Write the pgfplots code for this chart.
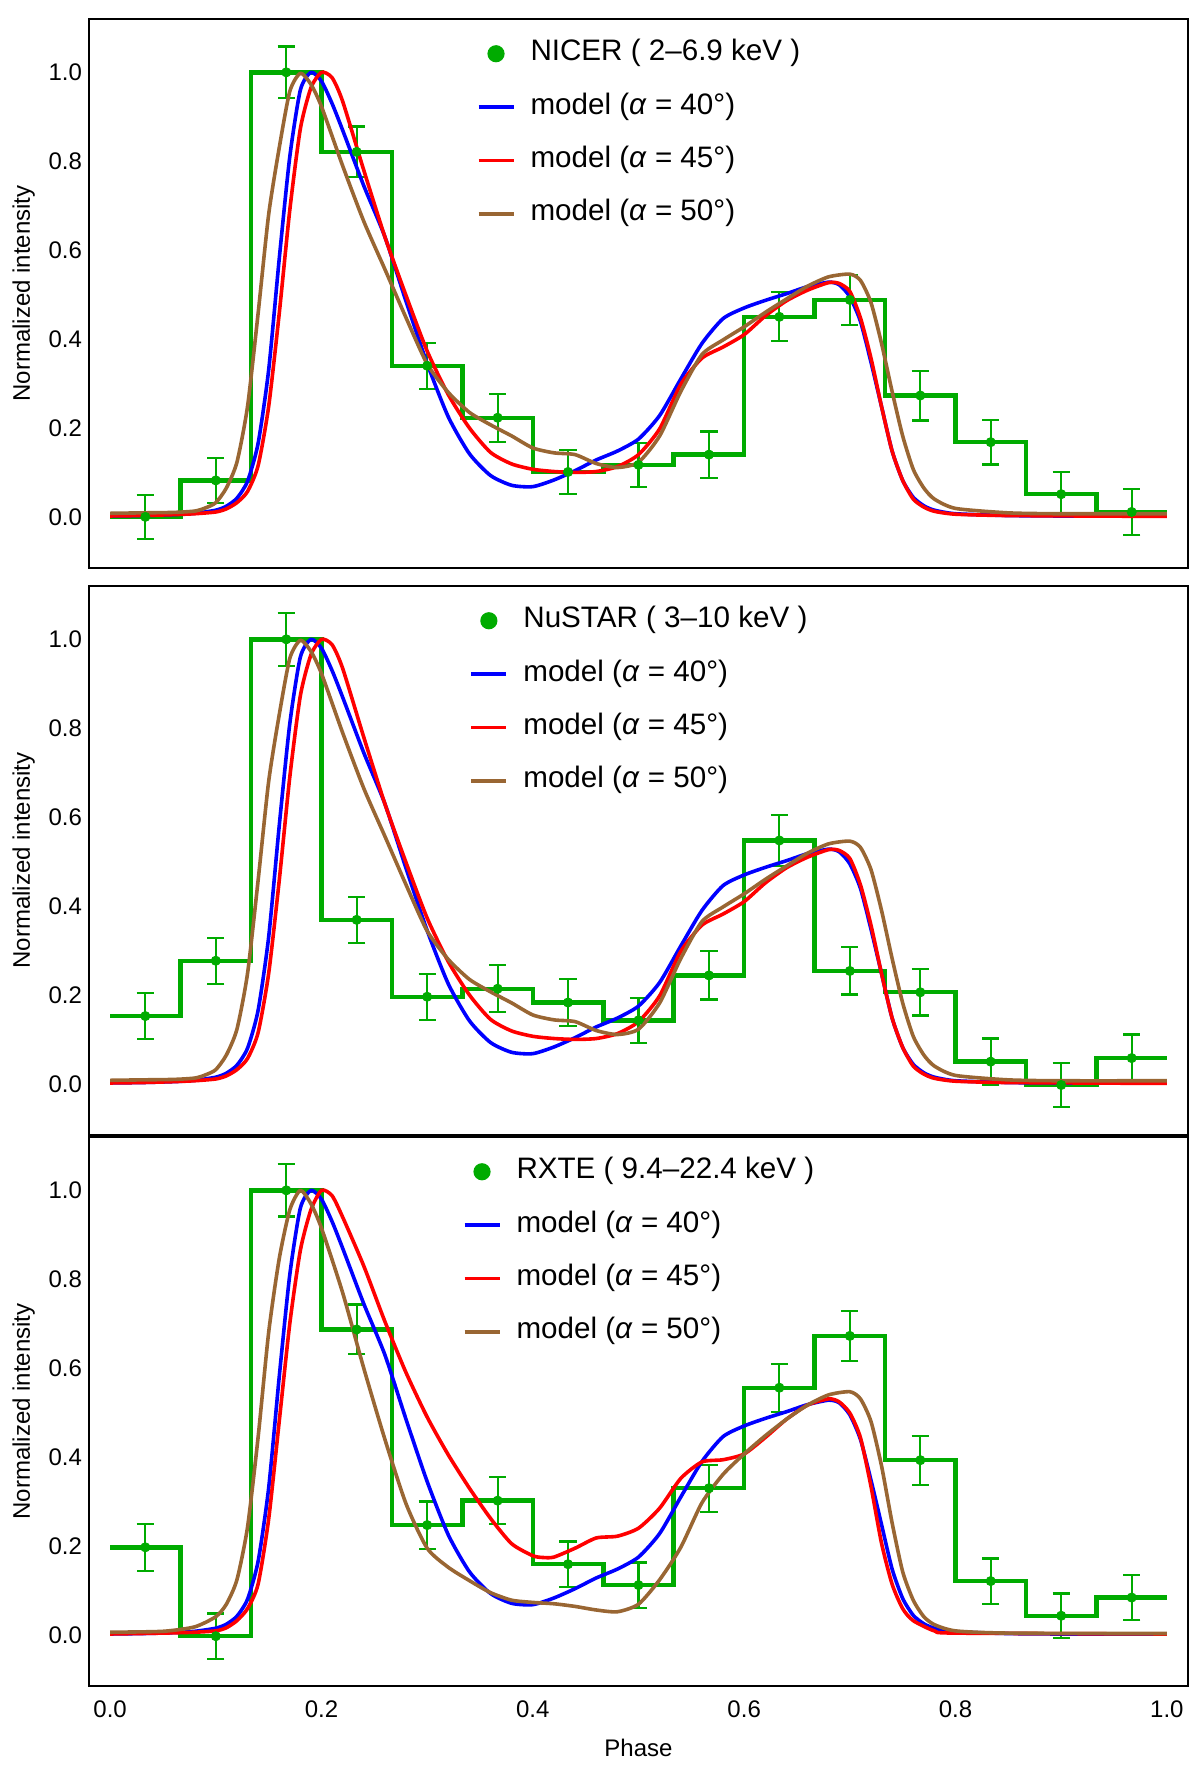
\documentclass[border=0pt]{standalone}
\usepackage{pgfplots}
\pgfplotsset{compat=1.18}
\usepackage{pgfplotstable}
\usepackage{fontspec}
\setmainfont{Liberation Sans}
\definecolor{dgreen}{rgb}{0,0.67,0}
\definecolor{mbrown}{rgb}{0.6,0.4,0.2}
\definecolor{mblue}{rgb}{0,0,1}
\definecolor{mred}{rgb}{1,0,0}

% ---------- data points (bin centre, value, error) ----------
\pgfplotstableread{
c y e
0.0333 0.000 0.050
0.1000 0.082 0.050
0.1667 1.000 0.058
0.2333 0.821 0.057
0.3000 0.340 0.052
0.3667 0.223 0.054
0.4333 0.101 0.050
0.5000 0.117 0.050
0.5667 0.140 0.052
0.6333 0.450 0.055
0.7000 0.488 0.056
0.7667 0.273 0.056
0.8333 0.168 0.050
0.9000 0.051 0.050
0.9667 0.011 0.052
}\nicer
\pgfplotstableread{
c y e
0.0333 0.1525 0.052
0.1000 0.277 0.052
0.1667 1.000 0.060
0.2333 0.369 0.052
0.3000 0.196 0.052
0.3667 0.214 0.053
0.4333 0.183 0.053
0.5000 0.143 0.051
0.5667 0.244 0.054
0.6333 0.5475 0.057
0.7000 0.254 0.053
0.7667 0.206 0.052
0.8333 0.050 0.052
0.9000 -0.0025 0.050
0.9667 0.058 0.053
}\nustar
\pgfplotstableread{
c y e
0.0333 0.197 0.053
0.1000 -0.003 0.051
0.1667 1.000 0.059
0.2333 0.687 0.056
0.3000 0.247 0.053
0.3667 0.302 0.053
0.4333 0.159 0.051
0.5000 0.112 0.051
0.5667 0.330 0.053
0.6333 0.556 0.054
0.7000 0.6725 0.056
0.7667 0.393 0.055
0.8333 0.121 0.051
0.9000 0.043 0.050
0.9667 0.084 0.051
}\rxte

% ---------- histograms (left bin edge, value) ----------
\pgfplotstableread{
x y
0.0000 0.000
0.0667 0.082
0.1333 1.000
0.2000 0.821
0.2667 0.340
0.3333 0.223
0.4000 0.101
0.4667 0.117
0.5333 0.140
0.6000 0.450
0.6667 0.488
0.7333 0.273
0.8000 0.168
0.8667 0.051
0.9333 0.011
1.0000 0.011
}\nicerh
\pgfplotstableread{
x y
0.0000 0.1525
0.0667 0.277
0.1333 1.000
0.2000 0.369
0.2667 0.196
0.3333 0.214
0.4000 0.183
0.4667 0.143
0.5333 0.244
0.6000 0.5475
0.6667 0.254
0.7333 0.206
0.8000 0.050
0.8667 -0.0025
0.9333 0.058
1.0000 0.058
}\nustarh
\pgfplotstableread{
x y
0.0000 0.197
0.0667 -0.003
0.1333 1.000
0.2000 0.687
0.2667 0.247
0.3333 0.302
0.4000 0.159
0.4667 0.112
0.5333 0.330
0.6000 0.556
0.6667 0.6725
0.7333 0.393
0.8000 0.121
0.8667 0.043
0.9333 0.084
1.0000 0.084
}\rxteh

% ---------- model curves ----------
\pgfplotstableread{
x y
0.00 0.002
0.03 0.003
0.06 0.005
0.08 0.008
0.10 0.015
0.11 0.024
0.12 0.042
0.13 0.080
0.14 0.165
0.15 0.330
0.16 0.580
0.17 0.810
0.18 0.960
0.19 1.000
0.20 0.980
0.21 0.930
0.22 0.870
0.24 0.745
0.26 0.630
0.28 0.485
0.30 0.345
0.32 0.225
0.34 0.142
0.36 0.093
0.38 0.071
0.40 0.068
0.42 0.083
0.44 0.104
0.46 0.128
0.48 0.148
0.50 0.175
0.52 0.228
0.54 0.310
0.56 0.390
0.58 0.446
0.60 0.470
0.62 0.487
0.64 0.502
0.66 0.518
0.68 0.528
0.69 0.522
0.70 0.495
0.71 0.440
0.72 0.348
0.73 0.248
0.74 0.148
0.75 0.082
0.76 0.044
0.77 0.025
0.78 0.015
0.80 0.007
0.85 0.003
0.90 0.002
1.00 0.002
}\blueA
\pgfplotstableread{
x y
0.00 0.002
0.03 0.003
0.06 0.005
0.08 0.007
0.10 0.011
0.11 0.018
0.12 0.032
0.13 0.057
0.14 0.115
0.15 0.248
0.16 0.457
0.17 0.690
0.18 0.873
0.19 0.965
0.20 1.000
0.21 0.988
0.22 0.935
0.24 0.780
0.26 0.630
0.28 0.498
0.30 0.373
0.32 0.275
0.34 0.200
0.36 0.145
0.38 0.119
0.40 0.107
0.42 0.102
0.44 0.100
0.46 0.102
0.48 0.113
0.50 0.140
0.52 0.198
0.54 0.298
0.56 0.357
0.58 0.382
0.60 0.410
0.62 0.452
0.64 0.486
0.66 0.510
0.68 0.527
0.69 0.525
0.70 0.507
0.71 0.448
0.72 0.357
0.73 0.248
0.74 0.148
0.75 0.082
0.76 0.040
0.77 0.022
0.78 0.0125
0.80 0.006
0.85 0.003
1.00 0.001
}\redA
\pgfplotstableread{
x y
0.00 0.008
0.03 0.009
0.06 0.010
0.08 0.013
0.09 0.020
0.10 0.032
0.11 0.065
0.12 0.123
0.13 0.248
0.14 0.457
0.15 0.680
0.16 0.830
0.17 0.957
0.18 0.998
0.19 0.973
0.20 0.923
0.22 0.790
0.24 0.665
0.26 0.557
0.28 0.448
0.30 0.344
0.32 0.280
0.34 0.235
0.36 0.207
0.38 0.182
0.40 0.155
0.42 0.144
0.44 0.140
0.46 0.120
0.48 0.111
0.50 0.123
0.52 0.182
0.54 0.282
0.56 0.365
0.58 0.398
0.60 0.4275
0.62 0.460
0.64 0.490
0.66 0.519
0.68 0.540
0.70 0.546
0.71 0.532
0.72 0.482
0.73 0.390
0.74 0.282
0.75 0.182
0.76 0.107
0.77 0.065
0.78 0.040
0.80 0.019
0.85 0.009
0.90 0.007
1.00 0.007
}\brownA
\pgfplotstableread{
x y
0.00 0.002
0.05 0.004
0.08 0.006
0.10 0.009
0.11 0.016
0.12 0.032
0.13 0.059
0.14 0.114
0.15 0.260
0.16 0.480
0.17 0.700
0.18 0.865
0.19 0.956
0.20 1.000
0.21 0.988
0.22 0.940
0.24 0.830
0.26 0.705
0.28 0.590
0.30 0.490
0.32 0.405
0.34 0.330
0.36 0.262
0.38 0.205
0.40 0.178
0.41 0.174
0.42 0.175
0.44 0.195
0.46 0.218
0.48 0.222
0.50 0.240
0.52 0.285
0.54 0.352
0.56 0.389
0.58 0.394
0.60 0.407
0.62 0.444
0.64 0.485
0.66 0.517
0.68 0.531
0.69 0.524
0.70 0.499
0.71 0.444
0.72 0.334
0.73 0.206
0.74 0.114
0.75 0.059
0.76 0.032
0.78 0.009
0.80 0.004
1.00 0.002
}\redC
\pgfplotstableread{
x y
0.00 0.006
0.05 0.008
0.08 0.018
0.10 0.041
0.11 0.069
0.12 0.124
0.13 0.242
0.14 0.444
0.15 0.680
0.16 0.846
0.17 0.956
0.18 1.000
0.19 0.970
0.20 0.915
0.22 0.770
0.24 0.600
0.26 0.440
0.28 0.295
0.30 0.195
0.32 0.152
0.34 0.122
0.36 0.095
0.38 0.078
0.40 0.073
0.42 0.070
0.44 0.064
0.46 0.056
0.48 0.052
0.50 0.069
0.52 0.124
0.54 0.197
0.56 0.297
0.58 0.361
0.60 0.407
0.62 0.448
0.64 0.485
0.66 0.517
0.68 0.540
0.70 0.547
0.71 0.531
0.72 0.480
0.73 0.380
0.74 0.252
0.75 0.142
0.76 0.078
0.77 0.041
0.78 0.023
0.80 0.009
0.85 0.004
1.00 0.003
}\brownC

\pgfplotsset{
  panel/.style={
    scale only axis, width=549.5pt, height=274.5pt,
    xmin=-0.02, xmax=1.02, ymin=-0.115, ymax=1.12,
    axis line style={line width=1.4pt},
    major tick length=0pt,
    ytick={0,0.2,0.4,0.6,0.8,1.0},
    xtick={0,0.2,0.4,0.6,0.8,1.0},
    /pgf/number format/assume math mode=true,
    tick label style={font=\fontsize{12}{14}\selectfont},
    yticklabel style={/pgf/number format/fixed, /pgf/number format/fixed zerofill, /pgf/number format/precision=1},
    xticklabel style={/pgf/number format/fixed, /pgf/number format/fixed zerofill, /pgf/number format/precision=1, yshift=-3.7pt},
    every axis y label/.style={at={(axis description cs:-0.0594,0.5)}, rotate=90, anchor=center, font=\fontsize{12}{14}\selectfont},
    every axis x label/.style={at={(axis description cs:0.5,-0.113)}, anchor=center, font=\fontsize{12}{14}\selectfont},
    ylabel={Normalized intensity},
    legend image code/.code={\draw[##1] (0pt,0pt) -- (17.5pt,0pt); \path[draw=none,fill=none] (0pt,0pt) -- (26pt,0pt);},
    legend style={at={(0.5,0.964)}, anchor=north, draw=none, fill=none,
      inner sep=0pt, outer sep=0pt,
      font=\fontsize{14.8}{17}\selectfont, row sep=11.7pt,
      nodes={inner sep=0pt, text height=11pt, text depth=4pt}},
    legend cell align=left,
  },
  hist/.style={const plot, dgreen, line width=2.2pt, forget plot},
  pts/.style={only marks, mark=*, mark size=2.3pt, dgreen, forget plot,
    error bars/.cd, y dir=both, y explicit,
    error bar style={line width=1.1pt, dgreen},
    error mark options={line width=1.1pt, dgreen, mark size=4.3pt, rotate=90}},
  mline/.style={line width=1.8pt, line join=round, no marks, smooth, tension=0.4},
  dotlegend/.style={legend image code/.code={\path[draw=none,fill=dgreen] (8.75pt,0pt) circle (4.3pt); \path[draw=none,fill=none] (0pt,0pt) -- (26pt,0pt);}},
}

\begin{document}
\begin{tikzpicture}
\path (0pt,0pt) rectangle (600pt,884pt);

% ---------------- NICER ----------------
\begin{axis}[panel, at={(44.5pt,600pt)}, anchor=south west, xticklabels={}]
\addlegendimage{dotlegend}
\addlegendentry{NICER ( 2–6.9 keV )}
\addplot[hist] table[x=x,y=y] {\nicerh};
\addplot[pts] table[x=c,y=y,y error=e] {\nicer};
\addplot[mline, mblue] table[x=x,y=y] {\blueA};
\addlegendentry{model (\textit{α} = 40°)}
\addplot[mline, mred] table[x=x,y=y] {\redA};
\addlegendentry{model (\textit{α} = 45°)}
\addplot[mline, mbrown] table[x=x,y=y] {\brownA};
\addlegendentry{model (\textit{α} = 50°)}
\end{axis}

% ---------------- NuSTAR ----------------
\begin{axis}[panel, at={(44.5pt,316.5pt)}, anchor=south west, xticklabels={}]
\addlegendimage{dotlegend}
\addlegendentry{NuSTAR ( 3–10 keV )}
\addplot[hist] table[x=x,y=y] {\nustarh};
\addplot[pts] table[x=c,y=y,y error=e] {\nustar};
\addplot[mline, mblue] table[x=x,y=y] {\blueA};
\addlegendentry{model (\textit{α} = 40°)}
\addplot[mline, mred] table[x=x,y=y] {\redA};
\addlegendentry{model (\textit{α} = 45°)}
\addplot[mline, mbrown] table[x=x,y=y] {\brownA};
\addlegendentry{model (\textit{α} = 50°)}
\end{axis}

% ---------------- RXTE ----------------
\begin{axis}[panel, at={(44.5pt,41pt)}, anchor=south west, xlabel={Phase}]
\addlegendimage{dotlegend}
\addlegendentry{RXTE ( 9.4–22.4 keV )}
\addplot[hist] table[x=x,y=y] {\rxteh};
\addplot[pts] table[x=c,y=y,y error=e] {\rxte};
\addplot[mline, mblue] table[x=x,y=y] {\blueA};
\addlegendentry{model (\textit{α} = 40°)}
\addplot[mline, mred] table[x=x,y=y] {\redC};
\addlegendentry{model (\textit{α} = 45°)}
\addplot[mline, mbrown] table[x=x,y=y] {\brownC};
\addlegendentry{model (\textit{α} = 50°)}
\end{axis}
\end{tikzpicture}
\end{document}
